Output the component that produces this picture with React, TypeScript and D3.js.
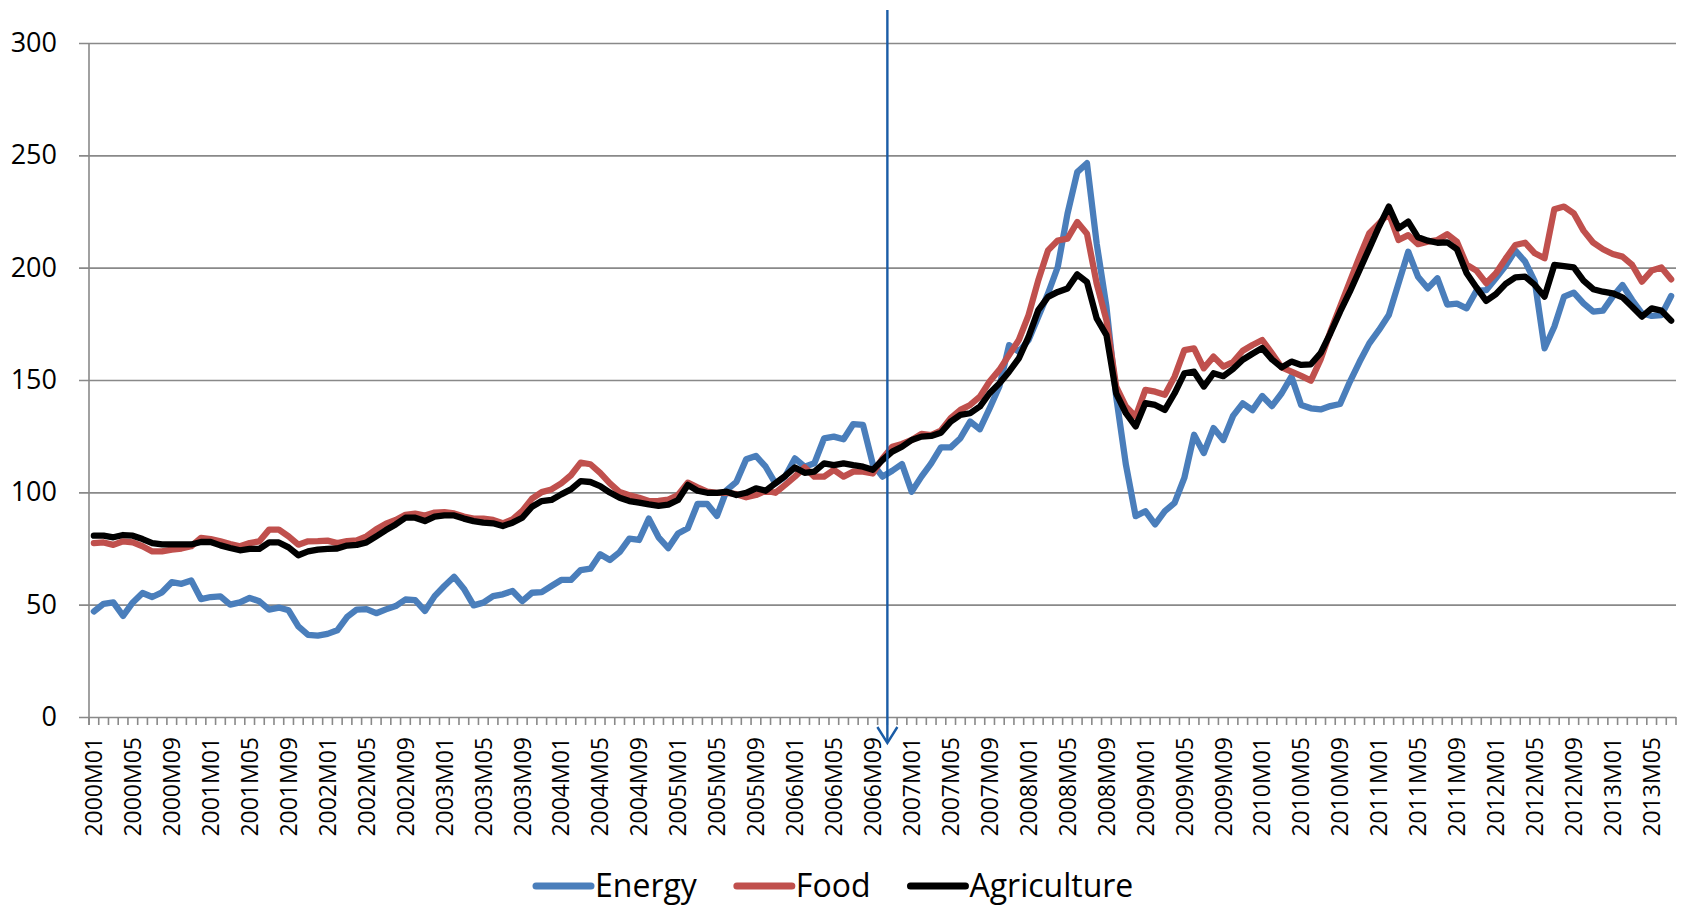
import React, { useEffect, useRef } from 'react'
import * as d3 from 'd3'

// monthly index values, 2000M01 .. 2013M07
const energy = [
  47.0, 50.4, 51, 45, 51, 55.2, 53.4, 55.5, 60, 59.3, 60.8, 52.5,
  53.4, 53.7, 50, 51, 53, 51.5, 47.8, 48.7, 47.5, 40.3, 36.6, 36.2,
  37, 38.6, 44.5, 47.8, 48, 46.2, 47.9, 49.4, 52.3, 52, 47.2, 53.8,
  58.3, 62.4, 57.1, 49.7, 50.9, 53.8, 54.6, 56.1, 51.6, 55.3, 55.6, 58.3,
  61, 61, 65.4, 66, 72.4, 69.9, 73.4, 79.4, 78.8, 88.3, 80, 75.2,
  81.7, 84, 94.8, 94.8, 89.5, 101, 104.7, 114.7, 116.2, 111.4, 104, 107,
  115.1, 111.4, 112.9, 124, 124.8, 123.6, 130.4, 130, 112.6, 107, 109.6, 112.6,
  100.3, 107, 112.9, 120, 120, 124.1, 131.5, 128.1, 137.4, 147.1, 165.5, 162.6,
  167.8, 178.1, 188.5, 200.3, 224, 242.5, 246.5, 210.7, 182.6, 142.6, 112.3, 89.4,
  91.6, 85.7, 91.6, 95.3, 106.4, 125.6, 117.5, 128.6, 123.3, 134, 139.6, 136.6,
  142.9, 138.4, 144.1, 151.5, 138.9, 137.4, 136.9, 138.4, 139.3, 149.2, 158.1, 166.3,
  172.3, 178.9, 193, 207.1, 196, 190.8, 195.3, 183.6, 184, 181.9, 189.7, 190,
  195.3, 200.8, 207.6, 202.7, 193.8, 164.1, 173.7, 187.1, 188.9, 184.1, 180.4, 180.9,
  187.1, 192.3, 185.6, 179.7, 178.5, 178.9, 187.4
]

const food = [
  77.4, 77.7, 76.6, 78.2, 77.7, 76, 73.7, 73.7, 74.5, 75, 76, 79.7,
  79.2, 78.2, 77, 76, 77.4, 78.2, 83.4, 83.4, 80.4, 76.7, 78.2, 78.3,
  78.5, 77.4, 78.3, 78.6, 80.4, 83.6, 86, 87.7, 90, 90.5, 89.7, 91,
  91.2, 90.6, 89.2, 88.3, 88.3, 87.7, 86.2, 88, 91.7, 97.2, 100.1, 101.3,
  104, 107.6, 113.2, 112.5, 108.7, 104, 100.1, 98.7, 97.6, 96.1, 96.2, 96.8,
  98.8, 104.3, 102.2, 100.3, 99.8, 99.8, 99.2, 97.8, 98.8, 100.7, 99.8, 103.3,
  107, 111.1, 107, 107, 110, 107, 109.2, 109.2, 108.4, 115.1, 120.3, 121.5,
  123.3, 126, 125.5, 127.5, 133, 136.7, 138.9, 142.6, 149.3, 154.5, 161.1, 167.8,
  178.9, 194.4, 207.7, 212.1, 212.9, 220.3, 215.1, 192.9, 176.6, 147.1, 138.2, 133.7,
  145.6, 144.8, 143.4, 151.5, 163.3, 164.1, 155.2, 160.4, 156, 158, 163, 165.6,
  167.8, 161.9, 155.6, 153.7, 151.8, 149.7, 159.2, 171.5, 182.6, 193.8, 204.9, 215.3,
  219.7, 224.2, 212.3, 214.5, 210.5, 211.6, 212.3, 214.9, 211.5, 201.3, 198.7, 193.1,
  197.5, 204, 210.1, 211.1, 206.4, 204.2, 226, 227.2, 224.2, 216.5, 211.1, 208.2,
  206.1, 204.9, 201.2, 193.8, 198.7, 200.1, 194.8
]

const agriculture = [
  80.7, 80.7, 80, 81, 80.7, 79.2, 77.4, 76.8, 76.8, 76.8, 76.8, 77.9,
  77.9, 76.4, 75.2, 74.2, 74.8, 74.8, 77.7, 77.7, 75.5, 72, 73.7, 74.5,
  74.8, 75, 76.3, 76.6, 77.7, 80.4, 83.2, 85.7, 88.7, 88.7, 87.2, 89.2,
  89.7, 89.7, 88.3, 87.2, 86.5, 86.2, 85, 86.5, 88.7, 93.6, 96.1, 96.6,
  99.1, 101.3, 105, 104.6, 102.8, 99.9, 97.6, 96.1, 95.4, 94.6, 94, 94.5,
  96.6, 103.3, 100.7, 99.8, 99.8, 100.3, 98.8, 99.8, 101.8, 100.7, 104, 107.3,
  111.1, 108.7, 109.2, 112.9, 112.1, 112.9, 112.1, 111.4, 110, 114.4, 118.1, 120.3,
  123.3, 124.8, 125.1, 126.5, 131.5, 134.5, 135.2, 138.2, 144.1, 148.5, 153.7, 159.6,
  169.2, 181.1, 187, 189.2, 190.7, 197, 193.6, 177.4, 170, 144.1, 135.2, 129.3,
  139.7, 138.9, 136.7, 144.1, 153, 153.7, 147.1, 153, 151.7, 154.9, 159, 161.7,
  164.2, 159.2, 155.6, 158.2, 156.7, 157, 162, 170.8, 180.4, 189.3, 199, 208.6,
  218.3, 227.2, 217.5, 220.5, 213.5, 212, 211.1, 211.3, 208.2, 197.5, 191.2, 185.2,
  188.2, 192.8, 195.7, 196, 192.3, 187.1, 201.2, 200.7, 200.1, 194.2, 190.4, 189.3,
  188.6, 186.8, 182.6, 178.2, 181.9, 180.9, 176.4
]

const months: string[] = []
for (let y = 2000; y <= 2013; y++) {
  for (let m = 1; m <= 12; m++) {
    if (months.length < energy.length) months.push(y + 'M' + String(m).padStart(2, '0'))
  }
}

const yTicks = [0, 50, 100, 150, 200, 250, 300]
const markerMonth = '2006M11'

const series = [
  { name: 'Energy', values: energy, color: '#4a7ebb' },
  { name: 'Food', values: food, color: '#c0504d' },
  { name: 'Agriculture', values: agriculture, color: '#000000' },
]

export default function App() {
  const ref = useRef<SVGSVGElement>(null)

  useEffect(() => {
    const svg = d3.select(ref.current)
    svg.selectAll('*').remove()
    const font = '"Open Sans", "Noto Sans", sans-serif'
    const left = 89, right = 1676, top = 43, bottom = 717

    const x = d3.scaleBand<string>().domain(months).range([left, right]).padding(0)
    const y = d3.scaleLinear().domain([0, 300]).range([bottom, top])
    const cx = (m: string) => (x(m) as number) + x.bandwidth() / 2

    // horizontal gridlines + y labels
    const yAxis = svg.append('g')
      .attr('transform', 'translate(79,0)')
      .call(d3.axisLeft(y).tickValues(yTicks).tickSize(-(right - 79)).tickPadding(22))
    yAxis.select('.domain').remove()
    yAxis.selectAll('line').attr('stroke', '#898989').attr('stroke-width', 1.6)
    yAxis.selectAll('text')
      .attr('font-family', font)
      .attr('font-size', 27)
      .attr('fill', '#000')

    // left axis line
    svg.append('line')
      .attr('x1', left).attr('x2', left)
      .attr('y1', top).attr('y2', bottom + 8)
      .attr('stroke', '#898989').attr('stroke-width', 1.6)

    // x tick marks at category boundaries
    const bounds = months.map(m => x(m) as number).concat([right])
    svg.append('g').selectAll('line')
      .data(bounds)
      .enter()
      .append('line')
      .attr('x1', d => d).attr('x2', d => d)
      .attr('y1', bottom).attr('y2', bottom + 8)
      .attr('stroke', '#898989').attr('stroke-width', 1.6)

    // x labels every 4 months
    svg.append('g').selectAll('text')
      .data(months.filter((_, i) => i % 4 === 0))
      .enter()
      .append('text')
      .attr('transform', d => 'translate(' + cx(d) + ',' + (bottom + 20) + ') rotate(-90)')
      .attr('text-anchor', 'end')
      .attr('dy', '0.36em')
      .attr('font-family', font)
      .attr('font-size', 23)
      .attr('fill', '#000')
      .text(d => d)

    // series
    const line = d3.line<number>()
      .x((_, i) => cx(months[i]))
      .y(d => y(d))
    series.forEach(s => {
      svg.append('path')
        .datum(s.values)
        .attr('d', line)
        .attr('fill', 'none')
        .attr('stroke', s.color)
        .attr('stroke-width', 6.3)
        .attr('stroke-linejoin', 'round')
        .attr('stroke-linecap', 'round')
    })

    // marker arrow
    const ax = x(markerMonth) as number
    const arrow = svg.append('g').attr('stroke', '#1a5ca6').attr('stroke-width', 2.4).attr('fill', 'none')
    arrow.append('line').attr('x1', ax).attr('x2', ax).attr('y1', 10).attr('y2', 742)
    arrow.append('path').attr('d', 'M' + (ax - 10) + ',727 L' + ax + ',743 L' + (ax + 10) + ',727')

    // legend
    let lx = 536
    const ly = 886
    series.forEach(s => {
      svg.append('line')
        .attr('x1', lx).attr('x2', lx + 55)
        .attr('y1', ly).attr('y2', ly)
        .attr('stroke', s.color).attr('stroke-width', 7).attr('stroke-linecap', 'round')
      const t = svg.append('text')
        .attr('x', lx + 59).attr('y', ly + 11)
        .attr('font-family', font)
        .attr('font-size', 32)
        .attr('fill', '#000')
        .text(s.name)
      const w = (t.node() as SVGTextElement).getComputedTextLength()
      lx = lx + 59 + w + 40
    })
  }, [])

  return (
    <div>
      <style>{`body { margin: 0; background: #fff; }`}</style>
      <svg ref={ref} width={1690} height={909} style={{ display: 'block' }}></svg>
    </div>
  )
}
